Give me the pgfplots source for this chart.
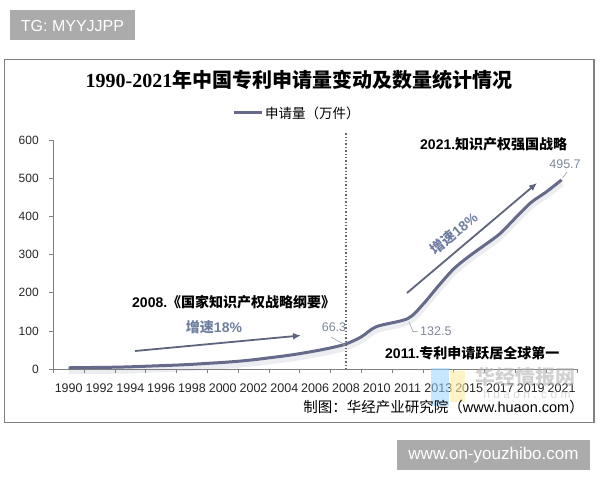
\documentclass[border=0pt]{standalone}
\usepackage{fontspec}
\setmainfont{Liberation Sans}
\newfontfamily\cjk{Noto Sans CJK SC}
\newfontfamily\titlenum{Liberation Serif}
\usepackage{pgfplots}
\pgfplotsset{compat=1.18}
\usetikzlibrary{arrows.meta}

\definecolor{linecol}{RGB}{102,106,138}
\definecolor{arrowcol}{RGB}{95,100,125}
\definecolor{speedcol}{RGB}{110,125,160}
\definecolor{valcol}{RGB}{125,135,150}
\definecolor{framecol}{RGB}{128,128,128}

\newcommand{\ann}[2]{{\fontsize{14}{14}\selectfont\bfseries #1{\cjk\bfseries #2}}}
\newcommand{\speed}{{\fontsize{14}{14}\selectfont\bfseries{\cjk\bfseries 增速}18\%}}

\begin{document}
\begin{tikzpicture}
\path[use as bounding box] (0,0) rectangle (600pt,480pt);

\begin{axis}[
  at={(53.3pt,110.7pt)}, anchor=south west,
  scale only axis, width=523.7pt, height=229.3pt,
  xmin=-0.5, xmax=16.5, ymin=0, ymax=600,
  axis x line*=bottom, axis y line*=left,
  axis line style={draw=framecol, line width=0.9pt},
  xtick={-0.5,0.5,...,16.5},
  xticklabels={1990,1992,1994,1996,1998,2000,2002,2004,2006,2008,2010,2011,2013,2015,2017,2019,2021,{}},
  xticklabel style={xshift=15.4pt, yshift=-7pt, font=\fontsize{12.5}{12.5}\selectfont},
  ytick={0,100,...,600},
  yticklabel style={xshift=-7pt, font=\fontsize{12}{12}\selectfont},
  tick align=outside, major tick length=4pt,
  tick style={draw=framecol, line width=0.8pt},
  ticklabel style={text=black!85},
  /pgf/number format/assume math mode=true,
  clip=false,
]

% soft shadow under the line
\addplot[smooth, line width=7pt, linecol, opacity=0.12, yshift=-3pt, forget plot]
  coordinates {
    (0,4) (0.5,4.5) (1,5) (1.5,5.5) (2,6.5) (2.5,8) (3,9.5) (3.5,11)
    (4,13) (4.5,15.5) (5,18) (5.5,21) (6,25) (6.5,30) (7,35) (7.5,41)
    (8,48) (8.5,56) (9,66.3) (9.5,85) (10,112) (11,132.5) (11.5,170)
    (12,218) (12.5,263) (13,296) (13.5,325) (14,355) (14.5,396)
    (15,436) (15.5,464) (16,495.7)};

\addplot[smooth, line width=3pt, linecol]
  coordinates {
    (0,4) (0.5,4.5) (1,5) (1.5,5.5) (2,6.5) (2.5,8) (3,9.5) (3.5,11)
    (4,13) (4.5,15.5) (5,18) (5.5,21) (6,25) (6.5,30) (7,35) (7.5,41)
    (8,48) (8.5,56) (9,66.3) (9.5,85) (10,112) (11,132.5) (11.5,170)
    (12,218) (12.5,263) (13,296) (13.5,325) (14,355) (14.5,396)
    (15,436) (15.5,464) (16,495.7)};

\draw[black!60, line width=1.4pt, dotted] (axis cs:9,0) -- (axis cs:9,622);

\end{axis}

\begin{scope}[x=1pt, y=-1pt, yshift=480pt]
  % top-left tag
  \fill[black!33] (10,10) rectangle (135,40);
  \node[white, font=\fontsize{16}{16}\selectfont] at (72.5,25.5) {TG: MYYJJPP};

  % chart frame
  \draw[framecol, line width=1.1pt] (4.3,59.3) rectangle (594,422.3);

  % title
  \node at (299,80) {\fontsize{20}{20}\selectfont{\titlenum\bfseries 1990-2021}{\cjk\bfseries 年中国专利申请量变动及数量统计情况}};

  % legend
  \draw[linecol, line width=3pt] (234,113) -- (262,113);
  \node[anchor=west, inner sep=1pt] at (264,113.5) {\fontsize{13.5}{13.5}\selectfont\cjk 申请量（万件）};

  % 2008 annotation
  \node[anchor=west, inner sep=0pt] at (132,302) {\ann{2008.}{《国家知识产权战略纲要》}};
  \node[text=speedcol] at (214,327) {\speed};
  \draw[arrowcol, line width=1.8pt, -{Latex[length=8pt,width=7pt]}] (135,351) -- (301,335.5);

  % value labels
  \node[text=valcol, font=\fontsize{12.5}{12.5}\selectfont] at (334,327) {66.3};
  \draw[valcol!70, line width=0.7pt] (331,337) -- (345,345);
  \node[text=valcol, font=\fontsize{12.5}{12.5}\selectfont, anchor=west, inner sep=0pt] at (420,331) {132.5};
  \draw[valcol!70, line width=0.7pt] (409,322) -- (413,331.5) -- (417.5,331.5);
  \node[text=valcol, font=\fontsize{12.5}{12.5}\selectfont] at (565,164) {495.7};
  \draw[valcol!70, line width=0.7pt] (562.5,178) -- (567,172);

  % 2011 / 2021 annotations
  \node[anchor=west, inner sep=0pt] at (385,353) {\ann{2011.}{专利申请跃居全球第一}};
  \node[anchor=west, inner sep=0pt] at (420,144) {\ann{2021.}{知识产权强国战略}};
  \draw[arrowcol, line width=1.8pt, -{Latex[length=8pt,width=7pt]}] (407,293) -- (537,183);
  \node[text=speedcol, rotate=40] at (454,233) {\speed};

  % watermark logo over the axis labels
  \fill[blue!45!cyan!40, opacity=0.55] (431,368) rectangle (449,406);
  \fill[yellow!60!orange!35, opacity=0.6] (450,371) rectangle (465,402);
  \node[black!30, opacity=0.6] at (525,377) {\fontsize{20}{20}\selectfont\cjk\bfseries 华经情报网};
  \node[black!15] at (527,394) {\fontsize{12}{12}\selectfont h u a o n . c o m};

  % source line
  \node[anchor=east, inner sep=0pt] at (584,407) {\fontsize{14.5}{14.5}\selectfont{\cjk 制图：华经产业研究院（}www.huaon.com{\cjk ）}};

  % bottom watermark box
  \fill[black!33] (397,440) rectangle (590,470);
  \node[white, font=\fontsize{17}{17}\selectfont] at (493.5,455.5) {www.on-youzhibo.com};
\end{scope}
\end{tikzpicture}
\end{document}
